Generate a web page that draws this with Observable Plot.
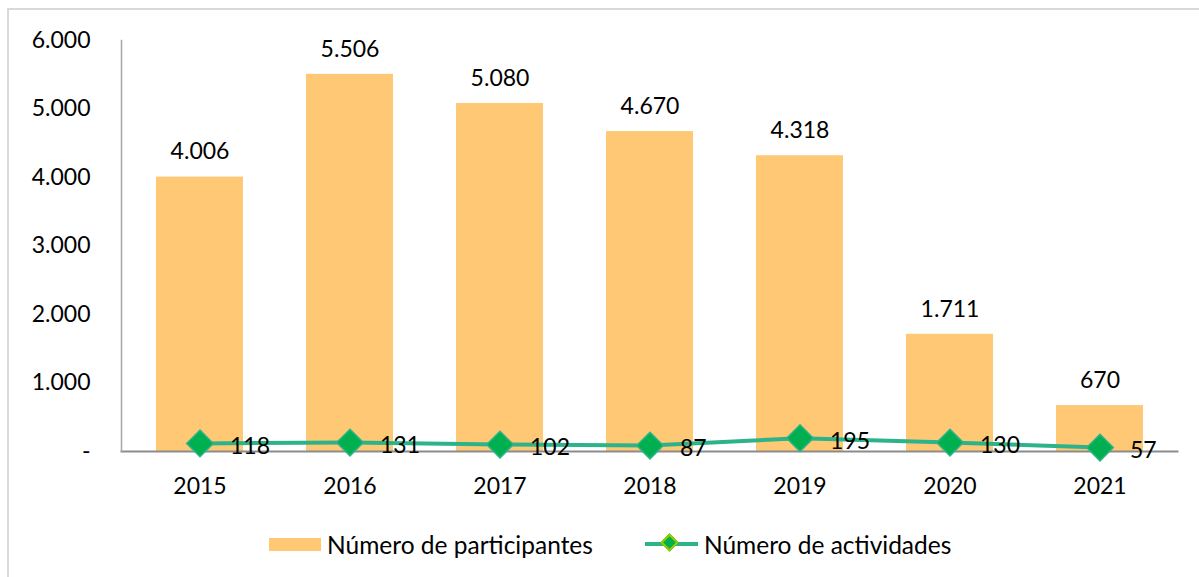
<!DOCTYPE html>
<html>
<head>
<meta charset="utf-8">
<script src="https://cdn.jsdelivr.net/npm/d3@7"></script>
<script src="https://cdn.jsdelivr.net/npm/@observablehq/plot@0.6"></script>
<style>
  body { margin: 0; background: #fff; font-family: Lato, "Open Sans", sans-serif; }
  #frame { position: absolute; left: 7px; top: 8px; width: 1200px; height: 580px; border: 2px solid #d9d9d9; box-sizing: border-box; }
  #chart { position: absolute; left: 0; top: 0; }
  #legend { position: absolute; left: 269px; top: 526px; height: 36px; display: flex; align-items: center; font-size: 24.5px; color: #000; }
  .item { display: flex; align-items: center; }
  .sw { width: 52px; height: 13px; background: #FFC874; margin-right: 6px; }
  .ln { position: relative; width: 53px; height: 22px; margin-right: 6px; }
  .ln .bar { position: absolute; left: 0; top: 9px; width: 53px; height: 4px; background: #2DB38A; }
  .ln .dia { position: absolute; left: 18px; top: 3px; width: 13px; height: 13px; box-sizing: border-box; background: #00B050; border: 2px solid #99CC00; transform: rotate(45deg); }
</style>
</head>
<body>
<div id="frame"></div>
<div id="chart"></div>
<div id="legend">
  <div class="item"><div class="sw"></div><span>Número de participantes</span></div>
  <div class="item" style="margin-left:52px"><div class="ln"><div class="bar"></div><div class="dia"></div></div><span>Número de actividades</span></div>
</div>
<script>
const years = ["2015", "2016", "2017", "2018", "2019", "2020", "2021"];
const participantes = [4006, 5506, 5080, 4670, 4318, 1711, 670];
const actividades = [118, 131, 102, 87, 195, 130, 57];
const yTicks = [0, 1000, 2000, 3000, 4000, 5000, 6000];

const fmt = d => d === 0 ? "-" : d3.format(",")(d).replace(/,/g, ".");
const data = years.map((y, i) => ({year: y, p: participantes[i], a: actividades[i]}));

const chart = Plot.plot({
  width: 1199,
  height: 510,
  marginLeft: 121,
  marginRight: 22,
  marginTop: 40,
  marginBottom: 59,
  style: {fontFamily: "Lato, 'Open Sans', sans-serif", fontSize: "23px", color: "#000", background: "transparent"},
  x: {domain: years, paddingInner: 0.42, paddingOuter: 0.21, label: null},
  y: {domain: [0, 6000], label: null},
  marks: [
    Plot.barY(data, {x: "year", y: "p", fill: "#FFC874"}),
    Plot.frame({anchor: "bottom", stroke: "#8c8c8c", strokeWidth: 2}),
    Plot.frame({anchor: "left", stroke: "#a6a6a6", strokeWidth: 1.5}),
    Plot.axisX({tickSize: 0, tickPadding: 26, fontSize: 23}),
    Plot.axisY({ticks: yTicks, tickSize: 0, tickPadding: 31, tickFormat: fmt, fontSize: 23}),
    Plot.text(data, {x: "year", y: "p", text: d => fmt(d.p), dy: -25, fontSize: 23, fill: "#000"}),
    Plot.line(data, {x: "year", y: "a", stroke: "#2DB38A", strokeWidth: 4}),
    Plot.dot(data, {x: "year", y: "a", symbol: "diamond2", r: 12, fill: "#00B050", stroke: "#2DB38A", strokeWidth: 1.5}),
    Plot.text(data, {x: "year", y: "a", text: d => String(d.a), dx: 30, dy: 3, textAnchor: "start", fontSize: 23, fill: "#000"})
  ]
});
document.getElementById("chart").appendChild(chart);
</script>
</body>
</html>
